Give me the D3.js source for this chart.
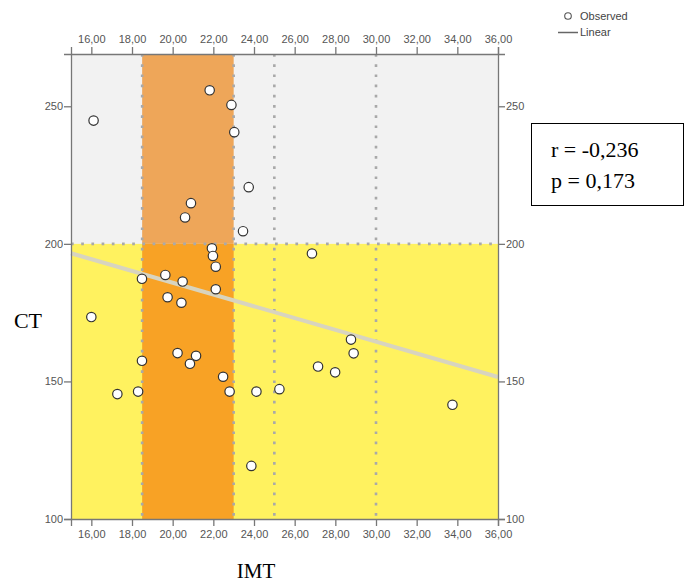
<!DOCTYPE html>
<html>
<head>
<meta charset="utf-8">
<script src="https://cdn.jsdelivr.net/npm/d3@7"></script>
<style>
  body { margin: 0; background: #fff; }
  .tick text { font-family: Arial, "Liberation Sans", sans-serif; font-size: 11px; fill: #555; }
  .tick line { stroke: #777; }
  .domain { stroke: #777; }
</style>
</head>
<body>
<div id="chart"></div>
<script>
// IMT values (x) and CT values (y)
let imt = [21.82, 22.89, 23.03, 16.11, 23.74, 20.90, 20.61, 23.46, 21.93, 21.98,
           22.12, 18.49, 19.64, 20.49, 22.12, 19.75, 20.43, 16.00, 20.24, 21.15,
           20.85, 18.49, 22.48, 17.28, 18.30, 22.80, 24.12, 25.25, 26.85, 28.77,
           28.90, 27.15, 27.99, 33.76, 23.87];
let ct = [255.8, 250.5, 240.6, 244.8, 220.6, 214.8, 209.6, 204.6, 198.4, 195.6,
          191.7, 187.3, 188.7, 186.3, 183.5, 180.6, 178.6, 173.4, 160.3, 159.3,
          156.4, 157.5, 151.7, 145.4, 146.3, 146.3, 146.3, 147.2, 196.5, 165.2,
          160.2, 155.4, 153.3, 141.5, 119.3];

// linear fit line ends
let fitX = [15, 36];
let fitY = [196.6, 151.6];

// reference zones
let bandX = [18.5, 23];        // orange band
let refX = [25, 30];           // dotted vertical lines
let refY = 200;                // dotted horizontal line

let xTicks = [16, 18, 20, 22, 24, 26, 28, 30, 32, 34, 36];
let yTicks = [100, 150, 200, 250];
let xDomain = [15, 36];
let yDomain = [100, 269];

let statLines = ["r = -0,236", "p = 0,173"];
let legendLabels = ["Observed", "Linear"];

function buildChart(div_id)
{
  let width = 687, height = 584;
  let left = 71, right = 498, top = 54, bottom = 519;

  let svg = d3.select("#"+div_id)
    .append("svg")
    .attr("width", width)
    .attr("height", height);

  let x = d3.scaleLinear().domain(xDomain).range([left, right]);
  let y = d3.scaleLinear().domain(yDomain).range([bottom, top]);

  //background zones
  let zones = [
    {x0: xDomain[0], x1: xDomain[1], y0: refY, y1: yDomain[1], c: "#f2f2f2"},
    {x0: xDomain[0], x1: xDomain[1], y0: yDomain[0], y1: refY, c: "#fff25f"},
    {x0: bandX[0], x1: bandX[1], y0: refY, y1: yDomain[1], c: "#eea659"},
    {x0: bandX[0], x1: bandX[1], y0: yDomain[0], y1: refY, c: "#f8a225"}
  ];
  svg.selectAll("rect.zone")
    .data(zones)
    .enter()
    .append("rect")
    .attr("class", "zone")
    .attr("x", function(d) { return x(d.x0); })
    .attr("y", function(d) { return y(d.y1); })
    .attr("width", function(d) { return x(d.x1) - x(d.x0); })
    .attr("height", function(d) { return y(d.y0) - y(d.y1); })
    .attr("fill", function(d) { return d.c; });

  //dotted reference lines
  let dotted = svg.append("g")
    .attr("stroke", "#a9a9a9")
    .attr("stroke-width", 2.6)
    .attr("stroke-dasharray", "2.7,7.5");
  dotted.selectAll("line.v")
    .data(bandX.concat(refX))
    .enter()
    .append("line")
    .attr("x1", function(d) { return x(d); })
    .attr("x2", function(d) { return x(d); })
    .attr("y1", y(yDomain[1]))
    .attr("y2", y(yDomain[0]));
  dotted.append("line")
    .attr("x1", x(xDomain[0]))
    .attr("x2", x(xDomain[1]))
    .attr("y1", y(refY))
    .attr("y2", y(refY));

  //fit line
  svg.append("line")
    .attr("x1", x(fitX[0]))
    .attr("y1", y(fitY[0]))
    .attr("x2", x(fitX[1]))
    .attr("y2", y(fitY[1]))
    .attr("stroke", "#d8d4bf")
    .attr("stroke-width", 4);

  //axes on all four sides
  let fmt = function(d) { return d.toFixed(2).replace(".", ","); };
  svg.append("g")
    .attr("transform", "translate(0," + bottom + ")")
    .call(d3.axisBottom(x).tickValues(xTicks).tickFormat(fmt).tickSizeOuter(0).tickSize(7).tickPadding(4));
  svg.append("g")
    .attr("transform", "translate(0," + top + ")")
    .call(d3.axisTop(x).tickValues(xTicks).tickFormat(fmt).tickSizeOuter(0).tickSize(7).tickPadding(4));
  svg.append("g")
    .attr("transform", "translate(" + left + ",0)")
    .call(d3.axisLeft(y).tickValues(yTicks).tickSizeOuter(0).tickSize(7).tickPadding(1));
  svg.append("g")
    .attr("transform", "translate(" + right + ",0)")
    .call(d3.axisRight(y).tickValues(yTicks).tickSizeOuter(0).tickSize(7).tickPadding(1));
  svg.selectAll(".domain").attr("stroke-width", 1.3);
  svg.selectAll(".tick line").attr("stroke-width", 1.3);

  //points
  svg.selectAll("circle.pt")
    .data(d3.zip(imt, ct))
    .enter()
    .append("circle")
    .attr("class", "pt")
    .attr("cx", function(d) { return x(d[0]); })
    .attr("cy", function(d) { return y(d[1]); })
    .attr("r", 4.7)
    .attr("fill", "#fff")
    .attr("stroke", "#333")
    .attr("stroke-width", 1.2);

  //legend
  let lg = svg.append("g").attr("font-family", "Arial, 'Liberation Sans', sans-serif").attr("font-size", "11px").attr("fill", "#444");
  lg.append("circle").attr("cx", 568).attr("cy", 16).attr("r", 3.3)
    .attr("fill", "#fff").attr("stroke", "#555").attr("stroke-width", 1.1);
  lg.append("line").attr("x1", 558).attr("x2", 578).attr("y1", 32.5).attr("y2", 32.5)
    .attr("stroke", "#666").attr("stroke-width", 1.5);
  lg.selectAll("text")
    .data(legendLabels)
    .enter()
    .append("text")
    .attr("x", 580)
    .attr("y", function(d, i) { return 20 + i*16; })
    .text(function(d) { return d; });

  //stats box
  svg.append("rect")
    .attr("x", 531.5).attr("y", 123.5)
    .attr("width", 152).attr("height", 82)
    .attr("fill", "#fff").attr("stroke", "#000").attr("stroke-width", 1);
  svg.selectAll("text.stat")
    .data(statLines)
    .enter()
    .append("text")
    .attr("class", "stat")
    .attr("x", 551)
    .attr("y", function(d, i) { return 157 + i*31; })
    .attr("font-family", "'Liberation Serif', 'Times New Roman', serif")
    .attr("font-size", "22px")
    .text(function(d) { return d; });

  //axis titles
  svg.append("text")
    .attr("x", 28).attr("y", 328)
    .attr("text-anchor", "middle")
    .attr("font-family", "'Liberation Serif', 'Times New Roman', serif")
    .attr("font-size", "22px")
    .text("CT");
  svg.append("text")
    .attr("x", 256).attr("y", 578)
    .attr("text-anchor", "middle")
    .attr("font-family", "'Liberation Serif', 'Times New Roman', serif")
    .attr("font-size", "21px")
    .text("IMT");
}

buildChart("chart");
</script>
</body>
</html>
